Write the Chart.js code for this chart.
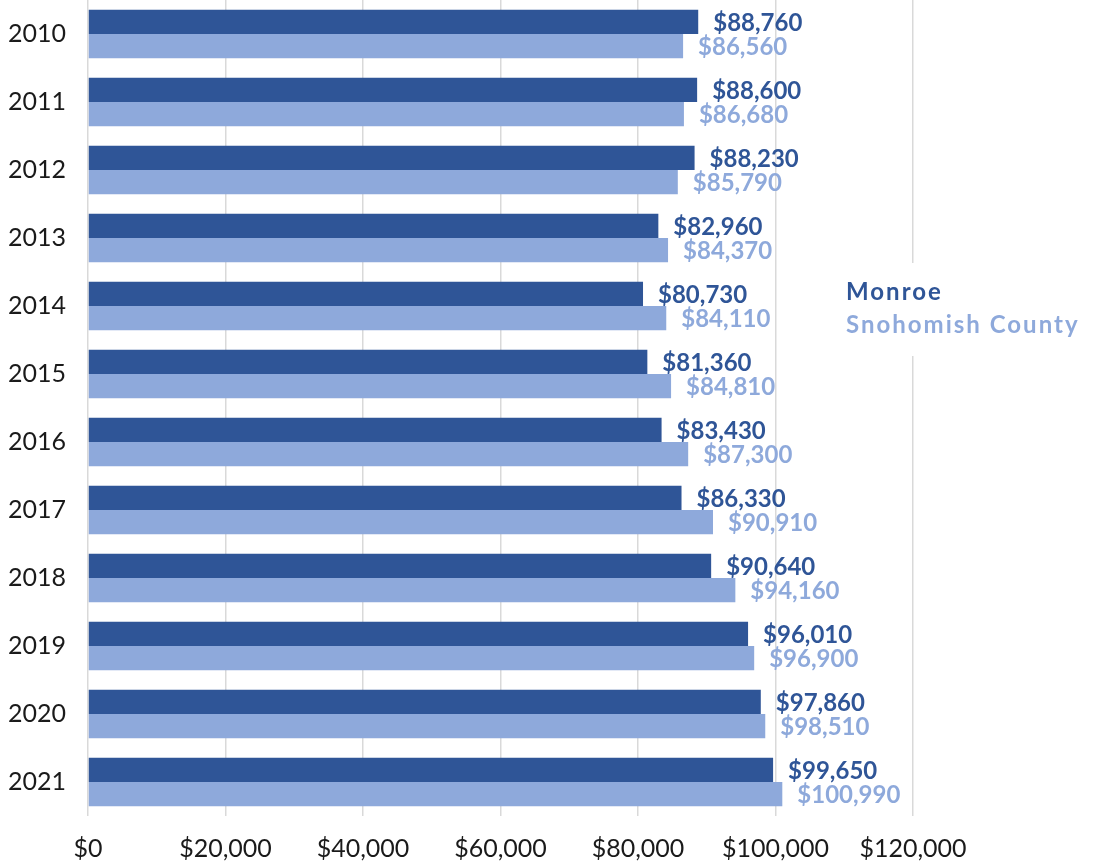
<!DOCTYPE html>
<html>
<head>
<meta charset="utf-8">
<title>Median household income</title>
<script src="https://cdn.jsdelivr.net/npm/chart.js@4/dist/chart.umd.min.js"></script>
<style>
  html, body { margin: 0; padding: 0; background: #fff; }
  #wrap { width: 1094px; height: 865px; }
</style>
</head>
<body>
<div id="wrap"><canvas id="chart" width="1094" height="865"></canvas></div>
<script>
// median household income by year
const years = ["2010","2011","2012","2013","2014","2015","2016","2017","2018","2019","2020","2021"];
const monroe = [88760, 88600, 88230, 82960, 80730, 81360, 83430, 86330, 90640, 96010, 97860, 99650];
const snohomish = [86560, 86680, 85790, 84370, 84110, 84810, 87300, 90910, 94160, 96900, 98510, 100990];
const xTicks = [0, 20000, 40000, 60000, 80000, 100000, 120000];

const DARK = "#2F5597";
const LIGHT = "#8EA9DB";
const FONT = "Lato, 'Open Sans', sans-serif";

const money = v => "$" + v.toLocaleString("en-US");

// value labels just past the end of each bar
const barLabels = {
  id: "barLabels",
  afterDatasetsDraw(chart) {
    const ctx = chart.ctx;
    ctx.save();
    ctx.textBaseline = "middle";
    ctx.textAlign = "left";
    ctx.font = "bold 24px " + FONT;
    chart.data.datasets.forEach((ds, i) => {
      const meta = chart.getDatasetMeta(i);
      ctx.fillStyle = ds.backgroundColor;
      meta.data.forEach((bar, j) => {
        ctx.fillText(money(ds.data[j]), bar.x + 15, bar.y + 1);
      });
    });
    ctx.restore();
  }
};

// text-only legend sitting over the last gridline
const sideLegend = {
  id: "sideLegend",
  afterDraw(chart) {
    const ctx = chart.ctx;
    ctx.save();
    ctx.fillStyle = "#fff";
    ctx.fillRect(835, 263, 259, 93);
    ctx.textBaseline = "middle";
    ctx.textAlign = "left";
    ctx.font = "bold 24px " + FONT;
    ctx.letterSpacing = "2px";
    chart.data.datasets.forEach((ds, i) => {
      ctx.fillStyle = ds.backgroundColor;
      ctx.fillText(ds.label, 846, 292 + i * 33);
    });
    ctx.restore();
  }
};

new Chart(document.getElementById("chart"), {
  type: "bar",
  data: {
    labels: years,
    datasets: [
      { label: "Monroe", data: monroe, backgroundColor: DARK },
      { label: "Snohomish County", data: snohomish, backgroundColor: LIGHT }
    ]
  },
  options: {
    indexAxis: "y",
    responsive: false,
    animation: false,
    devicePixelRatio: 1,
    categoryPercentage: 0.71,
    barPercentage: 1,
    layout: { padding: { top: 0, right: 181, bottom: 0, left: 0 } },
    plugins: {
      legend: { display: false },
      tooltip: { enabled: false }
    },
    scales: {
      x: {
        min: 0,
        max: 120000,
        afterBuildTicks(scale) {
          scale.ticks = xTicks.map(v => ({ value: v }));
        },
        afterFit(scale) { scale.height = 49; },
        grid: { color: "#D9D9D9", lineWidth: 1.5, drawTicks: false },
        border: { display: false },
        ticks: {
          padding: 18,
          color: "#1a1a1a",
          font: { family: FONT, size: 25 },
          callback: v => money(v)
        }
      },
      y: {
        afterFit(scale) {
          scale.width = 88;
          scale.paddingTop = 0;
          scale.paddingBottom = 0;
        },
        grid: { display: false, drawTicks: false },
        border: { display: false },
        ticks: {
          padding: 22,
          color: "#1a1a1a",
          font: { family: FONT, size: 25 }
        }
      }
    }
  },
  plugins: [barLabels, sideLegend]
});
</script>
</body>
</html>
